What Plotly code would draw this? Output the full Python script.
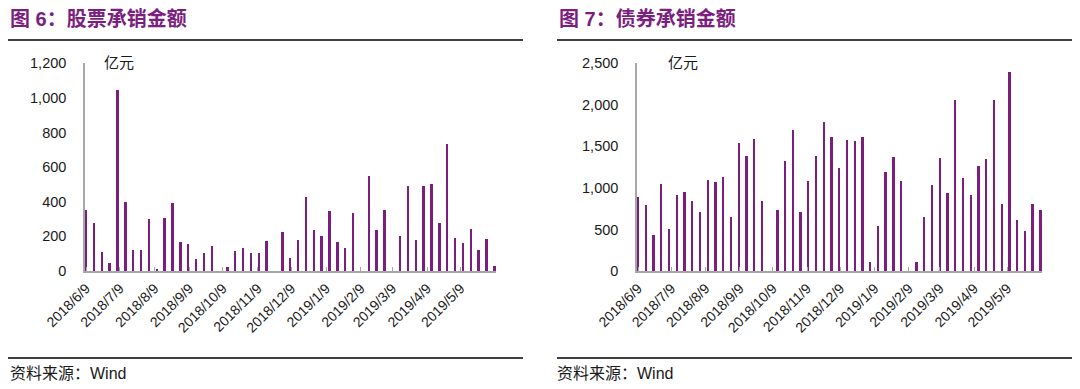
import plotly.graph_objects as go
import pandas as pd

# page body has an 8px margin; the figure is sized so it fits the 1080x389 window
OFF = 8
W, H = 1080 - 2 * OFF, 389 - 2 * OFF

# weekly dates
start_date = "2018-06-09"
n_weeks = 53
dates = pd.date_range(start_date, periods=n_weeks, freq="7D")

# 股票承销金额 (亿元)
equity = [350, 275, 110, 45, 1045, 395, 120, 118, 300, 10, 305, 390, 165, 155, 70, 105, 140, 0,
          20, 115, 130, 100, 100, 170, 0, 221, 73, 179, 424, 237, 198, 343, 168, 133, 333, 0,
          549, 237, 352, 0, 198, 489, 175, 489, 503, 275, 732, 187, 162, 243, 121, 185, 25]

# 债券承销金额 (亿元)
bond = [883, 795, 433, 1043, 502, 907, 951, 843, 710, 1088, 1063, 1124, 646, 1537, 1376, 1585, 843, 0,
        734, 1316, 1697, 706, 1083, 1384, 1786, 1609, 1240, 1577, 1561, 1609, 104, 534, 1184, 1364, 1079, 0,
        100, 646, 1031, 1356, 935, 2059, 1116, 911, 1260, 1344, 2059, 803, 2388, 614, 482, 803, 734]

tick_labels = ["2018/6/9", "2018/7/9", "2018/8/9", "2018/9/9", "2018/10/9", "2018/11/9",
               "2018/12/9", "2019/1/9", "2019/2/9", "2019/3/9", "2019/4/9", "2019/5/9"]
tick_vals = pd.to_datetime(tick_labels, format="%Y/%m/%d")

title_left = "图 6：股票承销金额"
title_right = "图 7：债券承销金额"
source_text = "资料来源：Wind"
unit_text = "亿元"

PURPLE = "#7B1E7F"
GRAY = "#A6A6A6"
BAR_W = 2.1 * 86400000

def px_x(p):
    return (p - OFF) / W

def px_y(p):
    return 1 - (p - OFF) / H

fig = go.Figure()
fig.add_trace(go.Bar(x=dates, y=equity, marker_color=PURPLE, marker_line_width=0,
                     width=BAR_W, xaxis="x", yaxis="y", showlegend=False))
fig.add_trace(go.Bar(x=dates, y=bond, marker_color=PURPLE, marker_line_width=0,
                     width=BAR_W, xaxis="x2", yaxis="y2", showlegend=False))

xrange = ["2018-06-08", "2019-06-09 12:00"]
xcommon = dict(type="date", range=xrange, tickvals=tick_vals, ticktext=tick_labels,
               tickangle=-45, showline=True, linecolor=GRAY, linewidth=1.5,
               ticks="inside", ticklen=4, tickcolor=GRAY, tickwidth=1,
               showgrid=False, zeroline=False, automargin=False, ticklabelstandoff=2,
               tickfont=dict(family="Liberation Sans, Arial", size=14, color="#1a1a1a"))
ycommon = dict(showline=True, linecolor=GRAY, linewidth=1.5, showgrid=False, zeroline=False,
               tickformat=",", ticks="", ticklabelstandoff=14, automargin=False,
               tickfont=dict(family="Liberation Sans, Arial", size=14.5, color="#1a1a1a"))

ydom = [px_y(271), px_y(63.3)]
fig.update_layout(
    template="none",
    width=W, height=H,
    margin=dict(l=0, r=0, t=0, b=0, pad=0),
    paper_bgcolor="white", plot_bgcolor="white",
    bargap=0,
    xaxis=dict(domain=[px_x(85), px_x(496)], anchor="y", **xcommon),
    yaxis=dict(domain=ydom, anchor="x", range=[0, 1200], dtick=200, **ycommon),
    xaxis2=dict(domain=[px_x(637), px_x(1042)], anchor="y2", **xcommon),
    yaxis2=dict(domain=ydom, anchor="x2", range=[0, 2500], dtick=500, **ycommon),
)

shapes = []
for x0, x1 in [(5, 523), (557, 1074)]:
    for yy in (40, 358):
        shapes.append(dict(type="line", xref="paper", yref="paper",
                           x0=px_x(max(x0, OFF)), x1=px_x(x1), y0=px_y(yy), y1=px_y(yy),
                           line=dict(color="black", width=1.5)))
fig.update_layout(shapes=shapes)

cjk = "Liberation Sans, Noto Sans CJK SC"
annotations = []
for x0, t in [(8, title_left), (557, title_right)]:
    annotations.append(dict(text="<b>" + t + "</b>", xref="paper", yref="paper",
                            x=px_x(x0), y=px_y(18), xanchor="left", yanchor="middle",
                            showarrow=False, font=dict(family=cjk, size=20, color=PURPLE)))
for x0 in (8, 555):
    annotations.append(dict(text=source_text, xref="paper", yref="paper",
                            x=px_x(x0), y=px_y(373), xanchor="left", yanchor="middle",
                            showarrow=False, font=dict(family=cjk, size=16, color="#1a1a1a")))
for x0 in (102, 666):
    annotations.append(dict(text=unit_text, xref="paper", yref="paper",
                            x=px_x(x0), y=px_y(63), xanchor="left", yanchor="middle",
                            showarrow=False, font=dict(family=cjk, size=15, color="#1a1a1a")))
fig.update_layout(annotations=annotations)

fig.write_html("out.html")
